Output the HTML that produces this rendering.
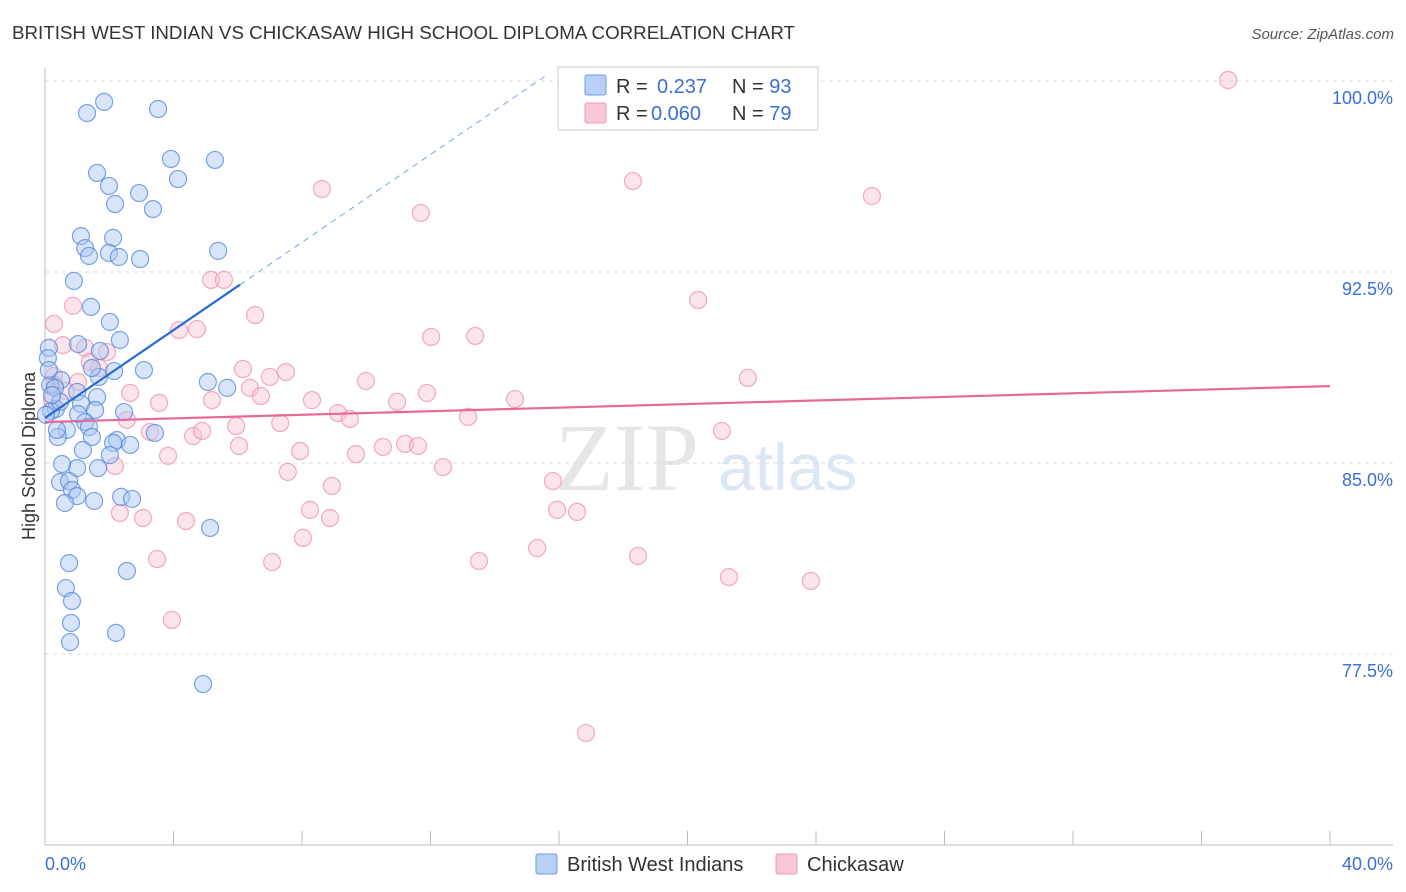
<!DOCTYPE html>
<html><head><meta charset="utf-8">
<style>
body{margin:0;background:#fff;font-family:"Liberation Sans",sans-serif;}
#wrap{position:relative;width:1406px;height:892px;overflow:hidden;}
</style></head>
<body>
<div id="wrap">
<svg id="chart" width="1406" height="892" xmlns="http://www.w3.org/2000/svg">
<text x="12" y="39" font-size="18" fill="#333" textLength="783" lengthAdjust="spacingAndGlyphs">BRITISH WEST INDIAN VS CHICKASAW HIGH SCHOOL DIPLOMA CORRELATION CHART</text>
<text x="1394" y="39" font-size="15" fill="#555" font-style="italic" text-anchor="end">Source: ZipAtlas.com</text>
<text x="35" y="456" font-size="18" fill="#333" text-anchor="middle" transform="rotate(-90 35 456)">High School Diploma</text>
<text x="555" y="490" font-size="96" fill="#e6e6e6" font-family="Liberation Serif, serif">ZIP</text>
<text x="718" y="490" font-size="66" fill="#dbe6f6">atlas</text>
<g id="grid"></g><g id="axes"></g><g id="pinkPts"></g><g id="bluePts"></g><g id="trends"></g>
<g>
<rect x="558" y="67" width="260" height="63" fill="#fff" stroke="#ccc"/>
<rect x="585" y="75" width="21" height="20" fill="#b8d0f5" stroke="#6f9be6" rx="2"/>
<rect x="585" y="103" width="21" height="20" fill="#f9c8d6" stroke="#ee9ab4" rx="2"/>
<text x="616" y="93" font-size="20" fill="#333">R = <tspan x="657" fill="#3a6fd8">0.237</tspan><tspan x="732">N = </tspan><tspan fill="#3a6fd8">93</tspan></text>
<text x="616" y="120" font-size="20" fill="#333">R = <tspan x="651" fill="#3a6fd8">0.060</tspan><tspan x="732">N = </tspan><tspan fill="#3a6fd8">79</tspan></text>
</g>
<g>
<rect x="536" y="854" width="21" height="20" fill="#b8d0f5" stroke="#6f9be6" rx="2"/>
<text x="567" y="871" font-size="20" fill="#333">British West Indians</text>
<rect x="776" y="854" width="21" height="20" fill="#f9c8d6" stroke="#ee9ab4" rx="2"/>
<text x="807" y="871" font-size="20" fill="#333">Chickasaw</text>
</g>
<text x="45" y="870" font-size="18" fill="#3a6fd8">0.0%</text>
<text x="1393" y="870" font-size="18" fill="#3a6fd8" text-anchor="end">40.0%</text>
</svg>
</div>
<script>
const yTicks=[100,92.5,85,77.5];
const yTickLabels=["100.0%","92.5%","85.0%","77.5%"];
const blueX=[1.84,1.31,3.52,3.92,5.29,1.62,4.14,1.99,2.93,2.18,3.36,1.12,2.12,1.25,1.37,1.99,2.30,2.96,5.39,0.90,1.43,2.02,2.33,1.03,1.71,0.12,0.09,3.08,2.15,1.68,1.46,0.50,0.16,0.31,5.07,5.67,1.00,1.62,1.12,0.34,0.19,1.56,2.46,1.03,1.25,1.37,0.68,1.46,3.42,0.40,2.24,2.12,1.18,1.65,1.00,0.53,0.47,0.75,0.84,1.00,2.37,2.71,1.53,0.62,5.14,0.75,2.55,0.65,0.84,0.81,2.21,0.78,4.92,0.47,0.12,0.22,0.03,0.37,2.02,2.65];
const blueY=[99.18,98.74,98.90,96.94,96.90,96.39,96.15,95.88,95.60,95.17,94.97,93.91,93.84,93.44,93.13,93.25,93.09,93.01,93.33,92.15,91.13,90.54,89.83,89.67,89.40,89.52,89.12,88.65,88.61,88.38,88.73,88.26,88.06,87.95,88.18,87.95,87.79,87.59,87.32,87.12,87.04,87.08,87.00,86.92,86.61,86.41,86.30,86.02,86.18,86.02,85.90,85.79,85.51,84.80,84.80,84.96,84.25,84.29,83.94,83.70,83.67,83.59,83.51,83.43,82.45,81.07,80.76,80.09,79.58,78.72,78.33,77.97,76.32,87.40,88.65,87.67,86.89,86.30,85.31,85.71];
const pinkX=[36.83,18.30,8.62,25.74,11.70,5.17,5.57,20.33,6.54,0.87,0.28,4.17,4.73,13.39,12.02,0.56,1.25,1.93,1.40,1.68,0.28,1.03,6.16,7.50,7.00,9.99,21.88,11.89,2.65,14.63,3.55,5.20,6.38,6.72,8.31,10.96,9.12,9.49,2.55,5.95,7.32,13.17,21.07,3.27,4.61,4.89,6.04,11.21,11.61,10.52,7.94,9.68,3.83,2.18,7.56,12.39,8.93,15.81,2.33,3.05,8.25,8.87,4.39,15.94,16.56,8.03,15.32,3.49,7.07,13.51,18.46,21.29,23.84,3.95,16.84,0.31,0.65,0.22];
const pinkY=[100.04,96.07,95.76,95.48,94.82,92.19,92.19,91.40,90.81,91.17,90.46,90.22,90.26,89.99,89.95,89.63,89.52,89.36,88.97,88.73,88.42,88.18,88.69,88.57,88.38,88.22,88.34,87.75,87.75,87.51,87.36,87.47,87.95,87.63,87.47,87.40,86.96,86.73,86.69,86.45,86.57,86.81,86.26,86.22,86.06,86.26,85.67,85.75,85.67,85.63,85.47,85.35,85.28,84.88,84.65,84.84,84.10,84.29,83.04,82.84,83.16,82.84,82.72,83.16,83.08,82.06,81.66,81.23,81.11,81.15,81.35,80.52,80.37,78.84,74.40,88.06,87.83,87.47];
const blueTrend=[86.77,0.862];
const pinkTrend=[86.61,88.02];
const NS="http://www.w3.org/2000/svg";
const sx=v=>45+v*(1285/40);
const sy=v=>81+(100-v)*25.467;
function mk(tag,attrs,parent){const e=document.createElementNS(NS,tag);for(const k in attrs)e.setAttribute(k,attrs[k]);parent.appendChild(e);return e;}
const grid=document.getElementById('grid');
yTicks.forEach((t,i)=>{
 const l=mk('line',{x1:45,x2:1393,y1:sy(t),y2:sy(t),stroke:'#ddd','stroke-dasharray':'4 4'},grid);
 
 
 const tx=mk('text',{x:1393,y:sy(t)+23,'font-size':18,fill:'#3a6fd8','text-anchor':'end'},grid);
 tx.textContent=yTickLabels[i];
 
 
});
const axes=document.getElementById('axes');
const ya=mk('line',{x1:45,x2:45,y1:68,y2:845,stroke:'#bbb'},axes);


const xa=mk('line',{x1:45,x2:1393,y1:845,y2:845,stroke:'#bbb'},axes);


for(let v=0;v<=40;v+=4){
 const t=mk('line',{x1:sx(v),x2:sx(v),y1:831,y2:845,stroke:'#bbb'},axes);
 
 
}
function pts(xs,ys,g,fill,stroke,name){
 xs.forEach((x,i)=>{
  const c=mk('circle',{cx:sx(x),cy:sy(ys[i]),r:8.5,fill:fill,'fill-opacity':0.45,stroke:stroke,'stroke-opacity':0.75,'stroke-width':1.2},g);
  
  
 });
}
pts(pinkX,pinkY,document.getElementById('pinkPts'),'#f8c3d3','#ec8fae','chickasaw-point');
pts(blueX,blueY,document.getElementById('bluePts'),'#a9c6f2','#4f86dc','british-west-indian-point');
const tr=document.getElementById('trends');
const bt=x=>blueTrend[0]+blueTrend[1]*x;
const l1=mk('line',{x1:sx(0),y1:sy(bt(0)),x2:sx(6.07),y2:sy(bt(6.07)),stroke:'#2a6bd6','stroke-width':2.2},tr);


const l2=mk('line',{x1:sx(6.07),y1:sy(bt(6.07)),x2:sx(15.56),y2:sy(bt(15.56)),stroke:'#7aa3e4','stroke-width':1,'stroke-dasharray':'6 5'},tr);


const l3=mk('line',{x1:sx(0),y1:sy(pinkTrend[0]),x2:sx(40),y2:sy(pinkTrend[1]),stroke:'#e8689a','stroke-width':2.2},tr);


</script>
</body></html>
